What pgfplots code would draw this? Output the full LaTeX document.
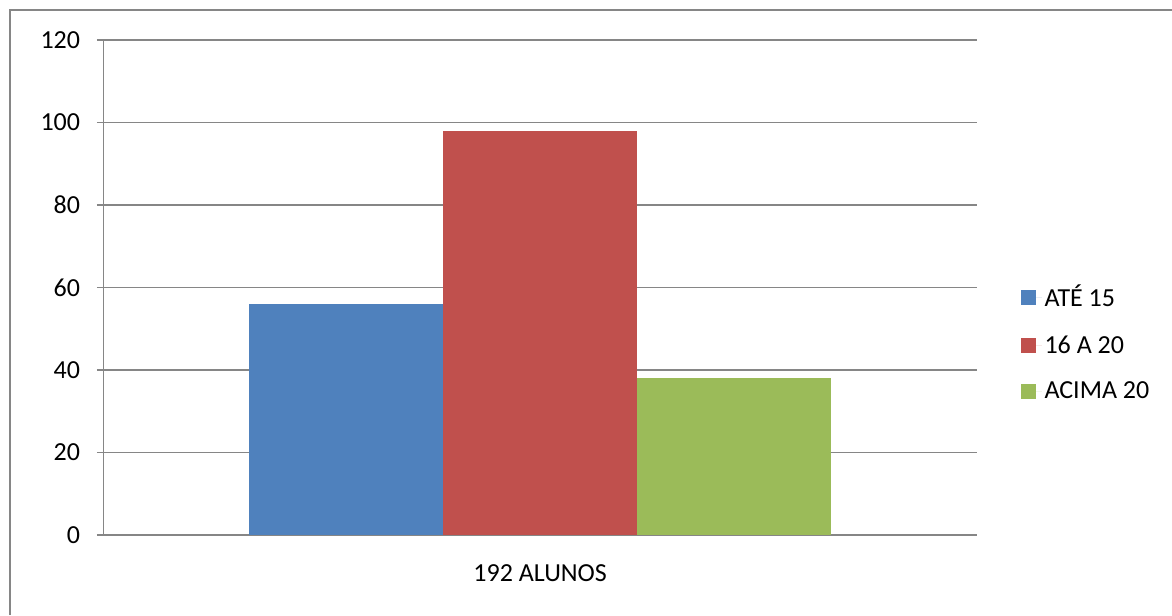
\documentclass[border=0pt]{standalone}
\usepackage{fontspec}
\setmainfont{Carlito}
\usepackage{pgfplots}
\pgfplotsset{compat=1.18}
\definecolor{axgray}{HTML}{868686}
\definecolor{cblue}{HTML}{4F81BD}
\definecolor{cred}{HTML}{C0504D}
\definecolor{cgreen}{HTML}{9BBB59}
\begin{document}
\begin{tikzpicture}
% page: 879pt x 461.25pt
\path[use as bounding box] (0,0) rectangle (879pt,461.25pt);
% outer chart frame
\draw[axgray,line width=1.1pt] (7.5pt,0) -- (7.5pt,453.75pt) -- (879pt,453.75pt);
\begin{axis}[
  at={(77.6pt,60pt)}, anchor=south west,
  scale only axis,
  width=655pt, height=371.25pt,
  xmin=0, xmax=1, ymin=0, ymax=120,
  ytick={0,20,...,120},
  xtick={0.5}, xticklabels={192 ALUNOS},
  extra x ticks={0,1}, extra x tick labels={},
  extra x tick style={grid=none, major tick length=6pt, tick style={axgray, line width=1pt}},
  major x tick style={draw=none},
  ymajorgrids,
  grid style={axgray, line width=1pt},
  axis x line*=bottom, axis y line*=left,
  axis line style={axgray, line width=1pt, -},
  y tick style={axgray, line width=1pt},
  tick align=outside, major tick length=5pt,
  tick label style={font=\fontsize{19.5}{22}\selectfont, black},
  /pgf/number format/assume math mode=true,
  yticklabel style={xshift=-9pt},
  xticklabel style={yshift=-14pt},
  ybar=0pt, bar width=145.4pt,
  legend style={at={(axis description cs:1.0505,0.388)}, anchor=west, draw=none,
    font=\fontsize{19.5}{22}\selectfont, row sep=16pt, inner sep=0pt,
    legend cell align=left},
  legend image code/.code={\fill[#1] (0pt,-5.6pt) rectangle (11.25pt,5.6pt);
    \path (11.25pt,0pt) -- (15.5pt,0pt);},
]
\addplot[fill=cblue, draw=none] coordinates {(0.5,56)};
\addplot[fill=cred, draw=none] coordinates {(0.5,98)};
\addplot[fill=cgreen, draw=none] coordinates {(0.5,38)};
\legend{ATÉ 15, 16 A 20, ACIMA 20}
\end{axis}
\end{tikzpicture}
\end{document}
